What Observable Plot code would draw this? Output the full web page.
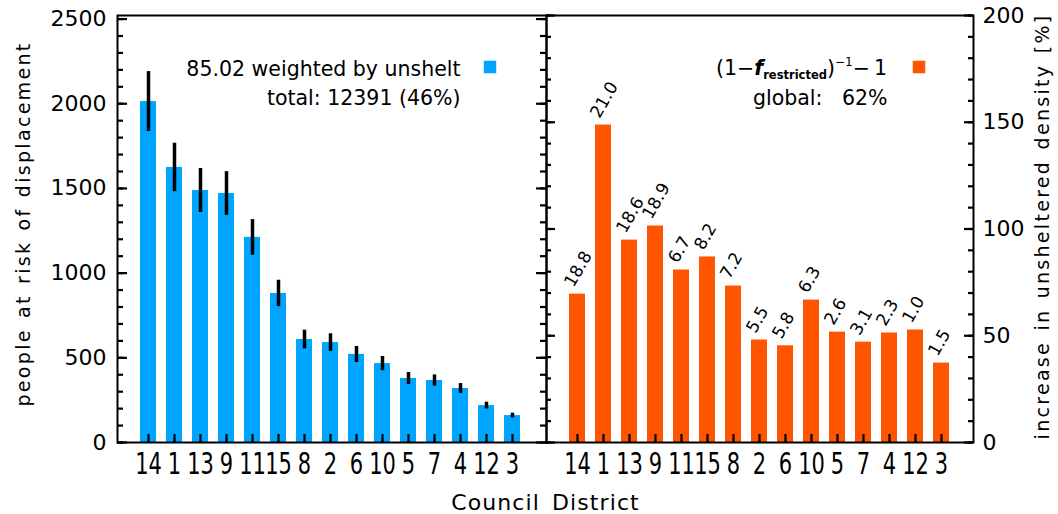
<!DOCTYPE html>
<html>
<head>
<meta charset="utf-8">
<script src="https://cdn.jsdelivr.net/npm/d3@7"></script>
<script src="https://cdn.jsdelivr.net/npm/@observablehq/plot@0.6"></script>
<style>
  html, body { margin: 0; padding: 0; background: white; }
  #chart { position: relative; width: 1058px; height: 514px; overflow: hidden; }
  #chart svg { position: absolute; top: 0; left: 0; }
</style>
</head>
<body>
<div id="chart"></div>
<script>
// ---- data ----
const districts = ["14","1","13","9","11","15","8","2","6","10","5","7","4","12","3"];
const displaced = [2013,1624,1488,1470,1211,880,608,590,520,466,378,366,319,218,159];
const displacedErr = [177,143,130,129,105,78,55,52,47,42,35,33,29,20,14];
const increase = [69.5,148.7,94.8,101.4,80.8,86.9,73.3,48.0,45.3,66.7,51.7,47.0,51.3,52.7,37.2];
const increaseLabels = ["18.8","21.0","18.6","18.9","6.7","8.2","7.2","5.5","5.8","6.3","2.6","3.1","2.3","1.0","1.5"];
const leftTicks = [0,500,1000,1500,2000,2500];
const rightTicks = [0,50,100,150,200];
const leftTitle = "people at risk of displacement";
const rightTitle = "increase in unsheltered density [%]";
const xTitle = "Council District";
const leftLegend1 = "85.02 weighted by unshelt";
const leftLegend2 = "total: 12391 (46%)";
const rightLegend2 = "global:   62%";

const BLUE = "#00a5ff";
const ORANGE = "#ff5500";
const FONT = "DejaVu Sans";

const rows = districts.map((d, i) => ({
  district: d, displaced: displaced[i], err: displacedErr[i],
  increase: increase[i], label: increaseLabels[i]
}));

const W = 1058, H = 514;
const MT = 15, MB = 72;
const FH = H - MT - MB;          // frame height
const L0 = 117, MID = 546, R1 = 973;
const LW = MID - L0, RW = R1 - MID;

const leftMinor = d3.range(0, 2501, 100);
const rightMinor = d3.range(0, 201, 10);

// inward ticks: short tick marks hugging one side of the frame
function inwardY(values, side, size, fw) {
  const inset = side === "left" ? {insetRight: fw - size} : {insetLeft: fw - size};
  return Plot.tickY(values, {y: d => d, stroke: "black", strokeWidth: 2.2, ...inset});
}
const inwardBottom = () => Plot.tickX(districts, {x: d => d, stroke: "black", strokeWidth: 2.2, insetTop: FH - 8});

const left = Plot.plot({
  width: W, height: H,
  marginLeft: L0, marginRight: W - MID, marginTop: MT, marginBottom: MB,
  style: {background: "transparent", overflow: "visible", fontFamily: FONT},
  x: {type: "band", domain: districts, paddingInner: 0.38, paddingOuter: 0.643, align: 0.47, axis: null},
  y: {domain: [0, 2521], axis: null},
  marks: [
    Plot.barY(rows, {x: "district", y: "displaced", fill: BLUE}),
    Plot.ruleX(rows, {x: "district", y1: d => d.displaced - d.err, y2: d => d.displaced + d.err, stroke: "black", strokeWidth: 3.5}),
    inwardY(leftMinor, "left", 6, LW),
    inwardY(leftTicks, "left", 10, LW),
    inwardY(leftMinor, "right", 6, LW),
    inwardY(leftTicks, "right", 10, LW),
    inwardBottom(),
    Plot.axisY(leftTicks, {anchor: "left", tickSize: 0, tickPadding: 11, tickFormat: d => String(d), fontSize: 22, fontFamily: FONT, label: null, fill: "black"}),
    Plot.axisX({anchor: "bottom", tickSize: 0, tickPadding: 10, fontSize: 30, fontFamily: FONT, label: null, fill: "black"}),
    Plot.frame({stroke: "black", strokeWidth: 2}),
    Plot.text([leftLegend1], {text: d => d, frameAnchor: "top-right", textAnchor: "end", lineAnchor: "bottom", dx: -86, dy: 60, fontSize: 20.5, fontFamily: FONT, fill: "black"}),
    Plot.text([leftLegend2], {text: d => d, frameAnchor: "top-right", textAnchor: "end", lineAnchor: "bottom", dx: -86, dy: 89, fontSize: 20.5, fontFamily: FONT, fill: "black"}),
    Plot.dot([0], {frameAnchor: "top-right", dx: -56.5, dy: 51.5, symbol: "square", r: 7.05, fill: BLUE, stroke: "none"}),
    Plot.text([leftTitle], {text: d => d, frameAnchor: "left", rotate: -90, textAnchor: "middle", lineAnchor: "bottom", dx: -88, dy: -5, fontSize: 19, fontFamily: FONT, fill: "black"}),
    Plot.text([xTitle], {text: d => d, frameAnchor: "bottom-right", textAnchor: "middle", lineAnchor: "bottom", dx: -1, dy: 67, fontSize: 22, fontFamily: FONT, fill: "black"})
  ]
});

const right = Plot.plot({
  width: W, height: H,
  marginLeft: MID, marginRight: W - R1, marginTop: MT, marginBottom: MB,
  style: {background: "transparent", overflow: "visible", fontFamily: FONT},
  x: {type: "band", domain: districts, paddingInner: 0.37, paddingOuter: 0.613, align: 0.485, axis: null},
  y: {domain: [0, 200], axis: null},
  marks: [
    Plot.barY(rows, {x: "district", y: "increase", fill: ORANGE}),
    Plot.text(rows, {x: "district", y: "increase", text: "label", rotate: -60, textAnchor: "start", lineAnchor: "bottom", dx: -4, dy: -6, fontSize: 17, fontFamily: FONT, fill: "black"}),
    inwardY(rightMinor, "left", 5, RW),
    inwardY(rightTicks, "left", 9, RW),
    inwardY(rightMinor, "right", 5, RW),
    inwardY(rightTicks, "right", 9, RW),
    inwardBottom(),
    Plot.axisY(rightTicks, {anchor: "right", tickSize: 0, tickPadding: 9, tickFormat: d => String(d), fontSize: 22, fontFamily: FONT, label: null, fill: "black"}),
    Plot.axisX({anchor: "bottom", tickSize: 0, tickPadding: 10, fontSize: 30, fontFamily: FONT, label: null, fill: "black"}),
    Plot.frame({stroke: "black", strokeWidth: 2}),
    Plot.text([rightLegend2], {text: d => d, frameAnchor: "top-right", textAnchor: "end", lineAnchor: "bottom", dx: -86, dy: 89, fontSize: 20.5, fontFamily: FONT, fill: "black"}),
    Plot.dot([0], {frameAnchor: "top-right", dx: -54.5, dy: 51.5, symbol: "square", r: 7.05, fill: ORANGE, stroke: "none"}),
    Plot.text([rightTitle], {text: d => d, frameAnchor: "right", rotate: -90, textAnchor: "middle", lineAnchor: "bottom", dx: 75, dy: -2.5, fontSize: 19, fontFamily: FONT, fill: "black"})
  ]
});

// formula legend with sub/superscripts
{
  const t = d3.select(right).append("text")
    .attr("x", R1 - 86).attr("y", MT + 60).attr("text-anchor", "end")
    .attr("font-family", FONT).attr("font-size", 20.5).attr("fill", "black");
  t.append("tspan").text("(1\u2212");
  t.append("tspan").attr("font-weight", "bold").attr("font-style", "italic").text("f");
  t.append("tspan").attr("font-weight", "bold").attr("font-size", 11.5).attr("dy", 4).text("restricted");
  t.append("tspan").attr("dy", -4).text(")");
  t.append("tspan").attr("font-size", 12).attr("dy", -9).text("\u22121");
  t.append("tspan").attr("dy", 9).text("\u2212\u20091");
}

for (const svg of [left, right]) {
  const s = d3.select(svg);
  s.selectAll("text")
    .filter(function() { return this.textContent === leftTitle || this.textContent === rightTitle; })
    .style("letter-spacing", "2.3px").style("word-spacing", "2px");
  s.selectAll("text")
    .filter(function() { return this.textContent === xTitle; })
    .style("letter-spacing", "1.1px").style("word-spacing", "4px");
  // narrow the district tick labels (condensed look)
  s.selectAll('g[aria-label="x-axis tick label"] text').each(function() {
    const tr = this.getAttribute("transform") || "";
    this.setAttribute("transform", tr + " scale(0.7,1)");
  });
}

document.getElementById("chart").append(left, right);
</script>
</body>
</html>
